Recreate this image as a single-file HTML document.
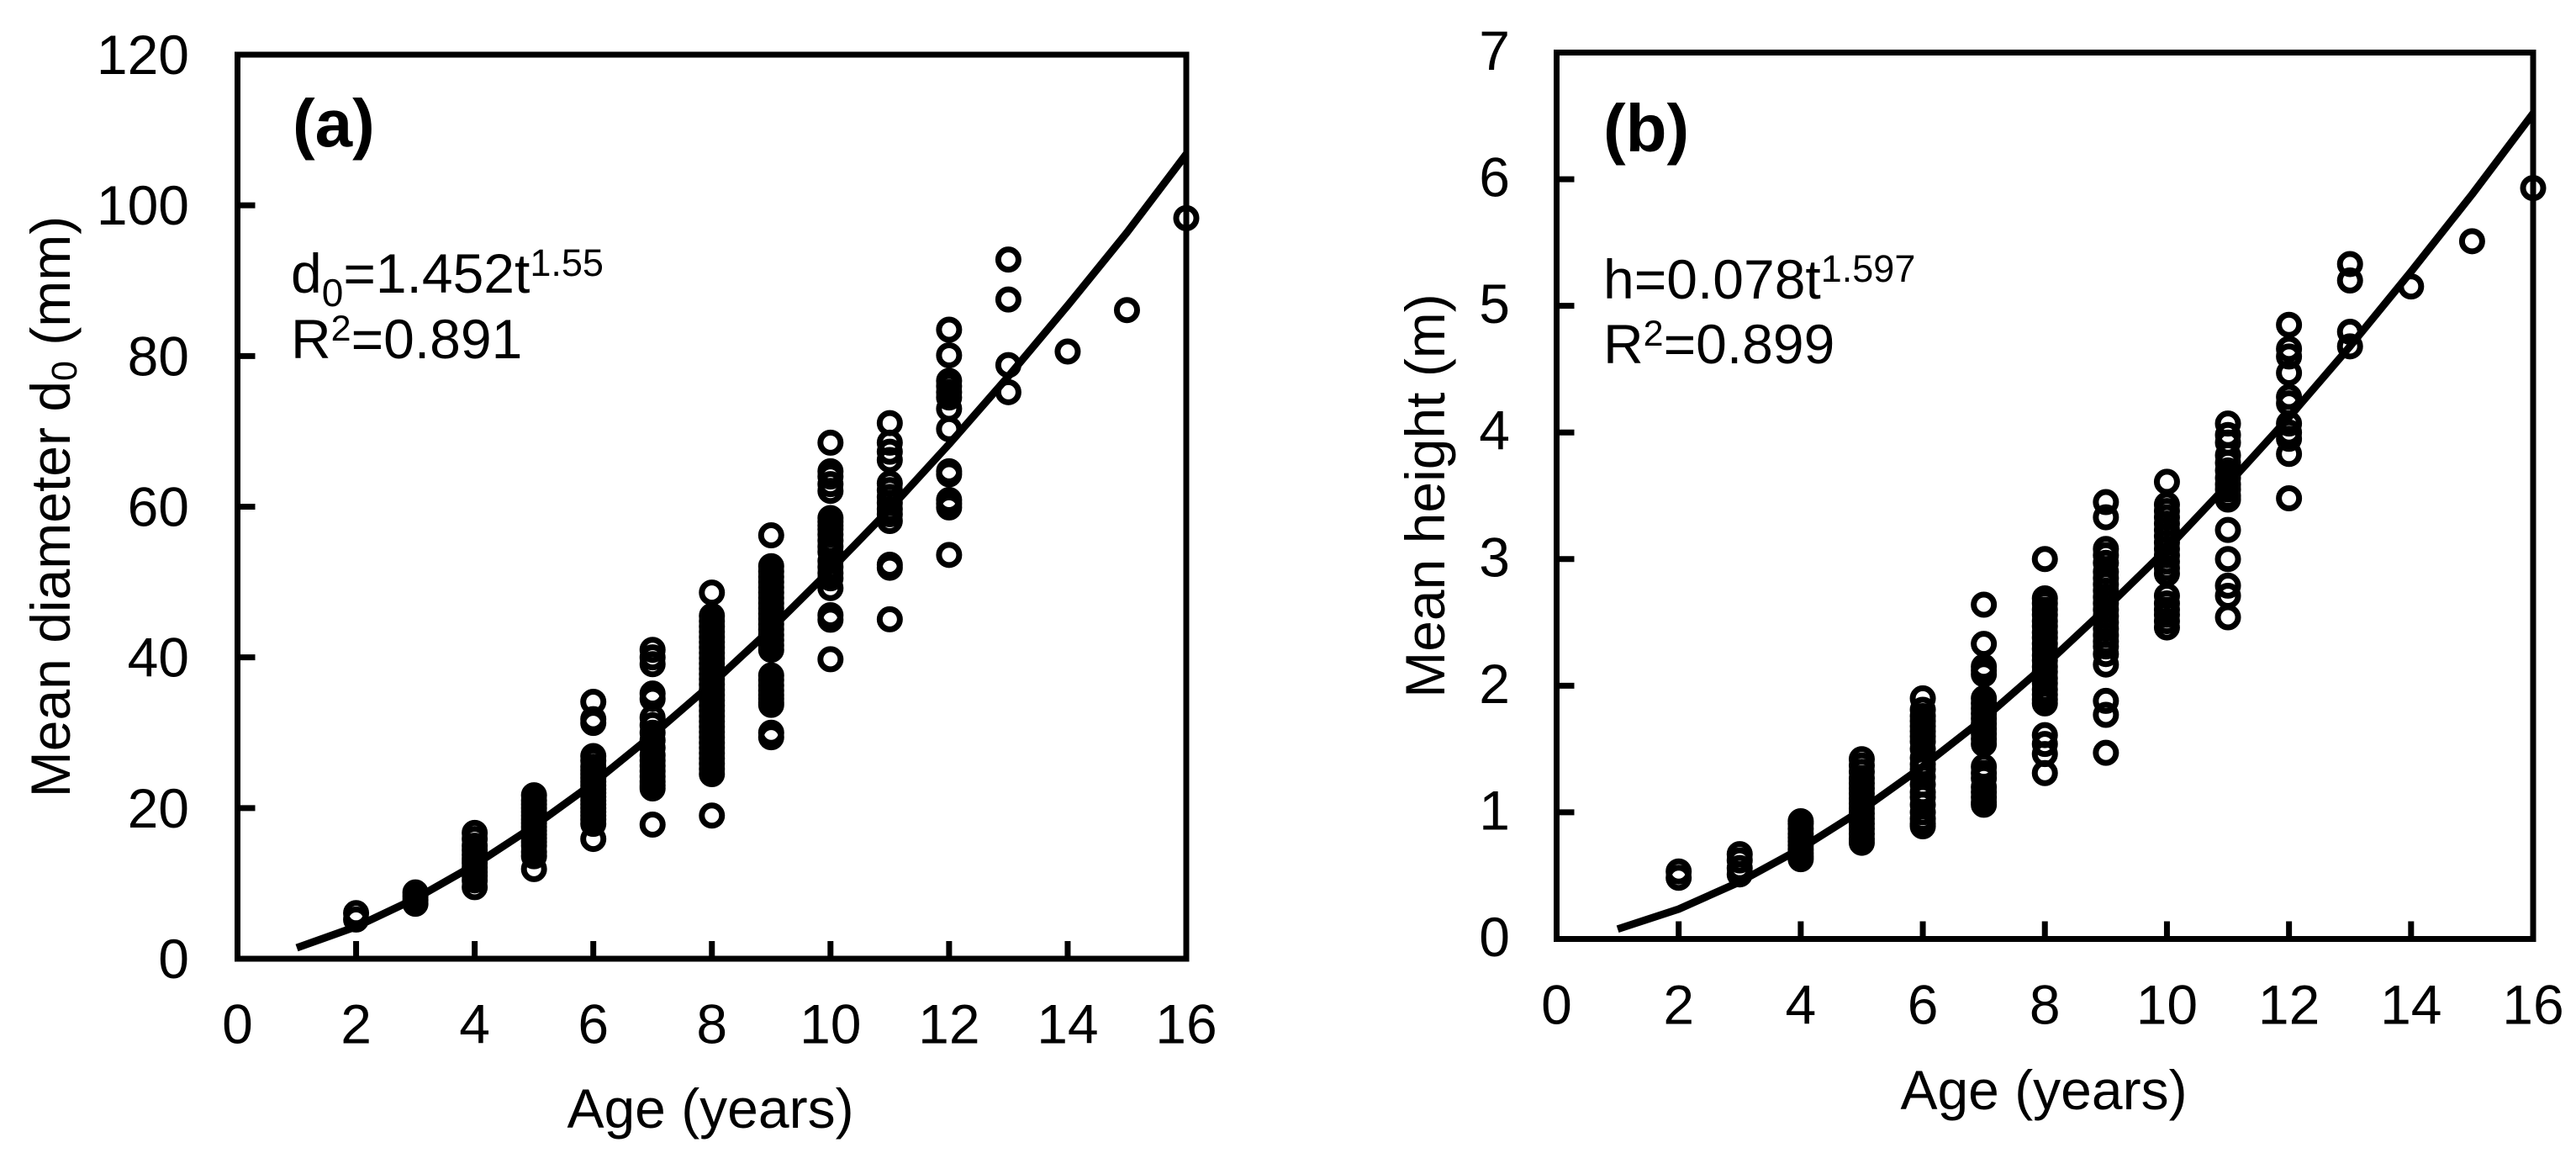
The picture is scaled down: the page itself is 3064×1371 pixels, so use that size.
<!DOCTYPE html>
<html lang="en">
<head>
<meta charset="utf-8">
<title>Mean diameter and mean height versus age</title>
<style>
html,body{margin:0;padding:0;background:#fff;}
svg{display:block;}
text{font-family:"Liberation Sans",Arial,sans-serif;fill:#000;}
</style>
</head>
<body>
<svg id="figure" xmlns="http://www.w3.org/2000/svg" width="3064" height="1371" viewBox="0 0 3064 1371">
  <rect width="3064" height="1371" fill="#fff"/>
  <g id="panel-a"></g>
  <g id="panel-b"></g>

  <text x="348" y="174" font-size="80" font-weight="bold">(a)</text>
  <text x="346" y="348" font-size="66">d<tspan font-size="46" dy="16">0</tspan><tspan dy="-16">=1.452t</tspan><tspan font-size="45" dy="-20">1.55</tspan></text>
  <text x="346" y="426" font-size="66">R<tspan font-size="43" dy="-21">2</tspan><tspan dy="21">=0.891</tspan></text>
  <text transform="translate(83 602.5) rotate(-90)" text-anchor="middle" font-size="66">Mean diameter d<tspan font-size="43" dy="8">0</tspan><tspan dy="-8"> (mm)</tspan></text>
  <text x="845" y="1341" text-anchor="middle" font-size="66">Age (years)</text>

  <text x="1907" y="180" font-size="80" font-weight="bold">(b)</text>
  <text x="1907" y="355" font-size="66">h=0.078t<tspan font-size="45" dy="-20">1.597</tspan></text>
  <text x="1907" y="432" font-size="66">R<tspan font-size="43" dy="-21">2</tspan><tspan dy="21">=0.899</tspan></text>
  <text transform="translate(1718 589.5) rotate(-90)" text-anchor="middle" font-size="66">Mean height (m)</text>
  <text x="2431" y="1319" text-anchor="middle" font-size="66">Age (years)</text>
</svg>
<script>
const xTickLabels = [0, 2, 4, 6, 8, 10, 12, 14, 16];
const aYTickLabels = [0, 20, 40, 60, 80, 100, 120];
const bYTickLabels = [0, 1, 2, 3, 4, 5, 6, 7];

const curveAges = [1, 2, 3, 4, 5, 6, 7, 8, 9, 10, 11, 12, 13, 14, 15, 16];
const aCurveValues = [1.45, 4.25, 7.97, 12.45, 17.6, 23.3, 29.7, 36.5, 43.8, 51.6, 59.7, 68.3, 77.3, 86.7, 96.4, 106.8];
const bCurveValues = [0.078, 0.236, 0.451, 0.714, 1.018, 1.363, 1.74, 2.16, 2.61, 3.08, 3.59, 4.12, 4.68, 5.27, 5.88, 6.52];

const scatterAges = [2, 3, 4, 5, 6, 7, 8, 9, 10, 11, 12, 13, 14, 15, 16];

const aDiameters = [
  [6.05, 5.2],
  [8.8, 8.3, 7.8, 7.3],
  [16.7, 15.9, 15, 14.4, 13.8, 13.2, 12.7, 12.1, 11.5, 11, 10.4, 9.5],
  [21.7, 21, 20.5, 20, 19.5, 19, 18.5, 18, 17.5, 17, 16.5, 16, 15.5, 15, 14.2, 13.6, 11.9],
  [34.1, 31.8, 31.3, 26.9, 26.3, 25.5, 25, 24.5, 24, 23.5, 23, 22.5, 22, 21.5, 21, 20.5, 20, 19.5, 19, 18.5, 17.9, 15.9],
  [41, 40, 39.1, 35.2, 34.5, 32, 31, 30, 29, 28, 27, 26.3, 25.6, 24.9, 24.2, 23.5, 23, 22.6, 17.8],
  [48.6, 45.5, 44.8, 44.1, 43.4, 42.7, 42, 41.3, 40.6, 39.9, 39.2, 38.5, 37.8, 37.1, 36.4, 35.7, 35, 34.3, 33.6, 32.9, 32.2, 31.5, 30.8, 30.1, 29.4, 28.7, 28, 27.3, 26.6, 25.9, 25.2, 24.5, 19],
  [56.2, 52.1, 51.4, 50.7, 50, 49.3, 48.6, 47.9, 47.2, 46.5, 45.8, 45.1, 44.4, 43.7, 43, 42.3, 41.6, 41, 37.6, 37, 36.3, 35.6, 35, 34.5, 34, 33.7, 30, 29.4],
  [68.5, 64.7, 64, 63, 62.1, 58.5, 58, 57.5, 57, 56.3, 55.5, 54.7, 54, 52.8, 52, 51.2, 50.5, 49.2, 45.6, 45, 39.75],
  [71.1, 68.5, 67.3, 66.2, 63.1, 62.2, 61.3, 60.5, 59.7, 59, 58.1, 52.3, 51.9, 45.05],
  [83.5, 80.1, 76.7, 76, 75.2, 74.5, 73, 70.3, 64.7, 64.3, 60.9, 60.4, 59.9, 53.6],
  [92.8, 87.5, 78.8, 75.2],
  [80.6],
  [86.1],
  [98.3]
];

const bHeights = [
  [0.533, 0.483],
  [0.67, 0.62, 0.56, 0.51],
  [0.93, 0.91, 0.87, 0.83, 0.8, 0.77, 0.74, 0.71, 0.68, 0.65, 0.63],
  [1.42, 1.37, 1.32, 1.27, 1.23, 1.19, 1.15, 1.11, 1.07, 1.03, 0.99, 0.95, 0.91, 0.87, 0.83, 0.79, 0.76],
  [1.9, 1.81, 1.76, 1.72, 1.68, 1.64, 1.6, 1.56, 1.5, 1.43, 1.38, 1.34, 1.28, 1.22, 1.16, 1.12, 1.06, 1, 0.95, 0.91, 0.89],
  [2.64, 2.33, 2.15, 2.12, 2.09, 1.9, 1.86, 1.82, 1.78, 1.74, 1.7, 1.66, 1.62, 1.58, 1.54, 1.36, 1.31, 1.27, 1.2, 1.16, 1.12, 1.08, 1.06],
  [3, 2.69, 2.65, 2.6, 2.56, 2.51, 2.47, 2.42, 2.38, 2.33, 2.29, 2.24, 2.2, 2.15, 2.11, 2.06, 2.02, 1.97, 1.93, 1.89, 1.86, 1.61, 1.54, 1.46, 1.31],
  [3.45, 3.33, 3.08, 3.03, 2.97, 2.9, 2.85, 2.8, 2.75, 2.7, 2.65, 2.6, 2.55, 2.5, 2.45, 2.4, 2.35, 2.31, 2.25, 2.167, 1.88, 1.77, 1.47],
  [3.61, 3.43, 3.38, 3.33, 3.28, 3.23, 3.18, 3.13, 3.08, 3.03, 2.98, 2.93, 2.885, 2.71, 2.65, 2.6, 2.56, 2.51, 2.46],
  [4.07, 3.98, 3.92, 3.82, 3.76, 3.7, 3.64, 3.59, 3.55, 3.5, 3.47, 3.23, 3, 2.79, 2.71, 2.54],
  [4.85, 4.66, 4.6, 4.47, 4.28, 4.23, 4.07, 4, 3.95, 3.83, 3.48],
  [5.33, 5.2, 4.795, 4.68],
  [5.153],
  [5.51],
  [5.93]
];

const SVG_NS = 'http://www.w3.org/2000/svg';

function makeScale(domainMax, pixelStart, pixelEnd) {
  return function (value) {
    return pixelStart + (value / domainMax) * (pixelEnd - pixelStart);
  };
}

function drawPanel(group, opts) {
  const scaleX = makeScale(16, opts.left, opts.right);
  const scaleY = makeScale(opts.yMax, opts.bottom, opts.top);

  // markers
  opts.ages.forEach(function (age, i) {
    opts.values[i].forEach(function (value) {
      const c = document.createElementNS(SVG_NS, 'circle');
      c.setAttribute('cx', scaleX(age));
      c.setAttribute('cy', scaleY(value));
      c.setAttribute('r', 12);
      c.setAttribute('fill', 'none');
      c.setAttribute('stroke', '#000');
      c.setAttribute('stroke-width', 7);
      
      
      group.appendChild(c);
    });
  });

  // fitted curve
  const curve = document.createElementNS(SVG_NS, 'polyline');
  curve.setAttribute('points', opts.curveAges.map(function (age, i) {
    return scaleX(age) + ',' + scaleY(opts.curve[i]);
  }).join(' '));
  curve.setAttribute('fill', 'none');
  curve.setAttribute('stroke', '#000');
  curve.setAttribute('stroke-width', 9);
  curve.setAttribute('stroke-linejoin', 'round');
  
  
  group.appendChild(curve);

  // frame
  const frame = document.createElementNS(SVG_NS, 'rect');
  frame.setAttribute('x', opts.left);
  frame.setAttribute('y', opts.top);
  frame.setAttribute('width', opts.right - opts.left);
  frame.setAttribute('height', opts.bottom - opts.top);
  frame.setAttribute('fill', 'none');
  frame.setAttribute('stroke', '#000');
  frame.setAttribute('stroke-width', 7);
  
  
  group.appendChild(frame);

  // x ticks and labels
  xTickLabels.forEach(function (tick) {
    const px = scaleX(tick);
    if (tick > 0 && tick < 16) {
      const t = document.createElementNS(SVG_NS, 'line');
      t.setAttribute('x1', px);
      t.setAttribute('x2', px);
      t.setAttribute('y1', opts.bottom);
      t.setAttribute('y2', opts.bottom - 21);
      t.setAttribute('stroke', '#000');
      t.setAttribute('stroke-width', 7);
      
      
      group.appendChild(t);
    }
    const label = document.createElementNS(SVG_NS, 'text');
    label.setAttribute('x', px);
    label.setAttribute('y', opts.xLabelBaseline);
    label.setAttribute('text-anchor', 'middle');
    label.setAttribute('font-size', 66);
    label.textContent = tick;
    
    
    group.appendChild(label);
  });

  // y ticks and labels
  opts.yTicks.forEach(function (tick) {
    const py = scaleY(tick);
    if (tick > 0 && tick < opts.yMax) {
      const t = document.createElementNS(SVG_NS, 'line');
      t.setAttribute('x1', opts.left);
      t.setAttribute('x2', opts.left + 21);
      t.setAttribute('y1', py);
      t.setAttribute('y2', py);
      t.setAttribute('stroke', '#000');
      t.setAttribute('stroke-width', 7);
      
      
      group.appendChild(t);
    }
    const label = document.createElementNS(SVG_NS, 'text');
    label.setAttribute('x', opts.yLabelRight);
    label.setAttribute('y', py + opts.yLabelDrop);
    label.setAttribute('text-anchor', 'end');
    label.setAttribute('font-size', 66);
    label.textContent = tick;
    
    
    group.appendChild(label);
  });
}

drawPanel(document.getElementById('panel-a'), {
  left: 282.5, right: 1411, top: 65, bottom: 1140,
  yMax: 120,
  yTicks: aYTickLabels,
  ages: scatterAges,
  values: aDiameters,
  curveAges: curveAges,
  curve: aCurveValues,
  xLabelBaseline: 1240.5,
  yLabelRight: 225,
  yLabelDrop: 23
});

drawPanel(document.getElementById('panel-b'), {
  left: 1851.5, right: 3013, top: 62.5, bottom: 1116.5,
  yMax: 7,
  yTicks: bYTickLabels,
  ages: scatterAges,
  values: bHeights,
  curveAges: curveAges,
  curve: bCurveValues,
  xLabelBaseline: 1217.5,
  yLabelRight: 1796,
  yLabelDrop: 20.5
});
</script>
</body>
</html>
